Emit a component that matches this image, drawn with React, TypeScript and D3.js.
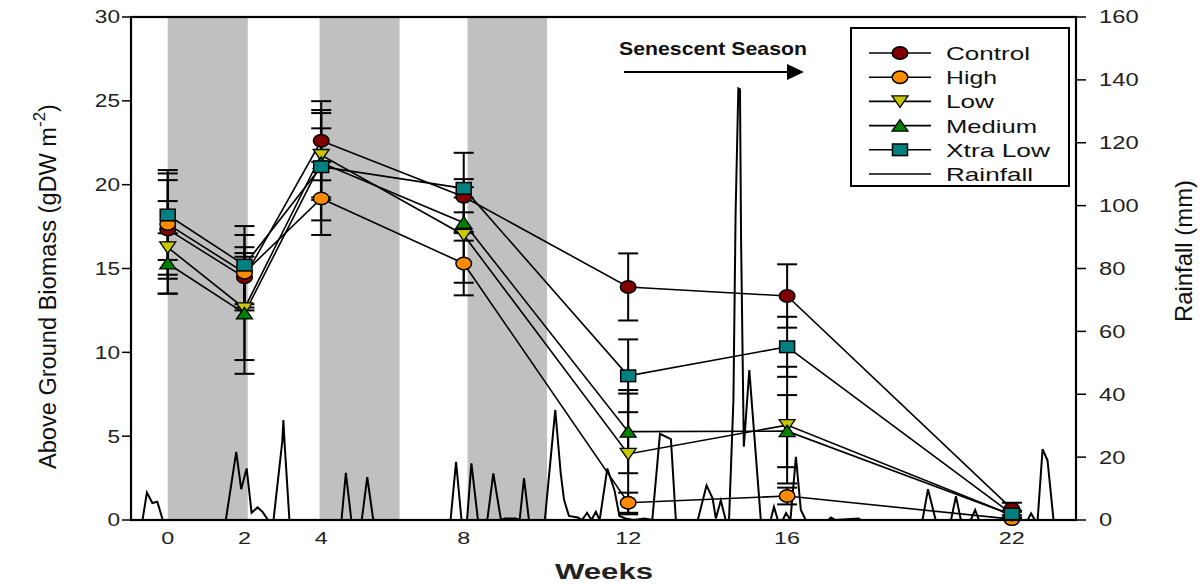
import { useEffect, useRef } from "react";
import * as d3 from "d3";

// sampling dates (days since first harvest) and their week labels
const sampleDays = [0, 14, 28, 54, 84, 113, 154];
const weekLabels = ["0", "2", "4", "8", "12", "16", "22"];

const treatments = ["Control", "High", "Low", "Medium", "Xtra Low"];
const control = [17.33, 14.47, 22.62, 19.28, 13.9, 13.36, 0.66];
const high = [17.65, 14.75, 19.18, 15.3, 1.03, 1.43, 0.05];
const low = [16.26, 12.62, 21.77, 17.0, 3.94, 5.66, 0.3];
const medium = [15.3, 12.32, 21.3, 17.73, 5.27, 5.3, 0.3];
const xtraLow = [18.19, 15.2, 21.07, 19.78, 8.6, 10.33, 0.36];

const controlErr = [2.94, 1.8, 2.36, 2.62, 2.0, 1.89, 0.37];
const highErr = [3.02, 2.25, 2.18, 1.9, 0.6, 0.5, 0.05];
const lowErr = [2.76, 3.08, 2.68, 2.85, 3.6, 3.48, 0.2];
const mediumErr = [1.8, 3.6, 2.06, 0.62, 2.48, 2.15, 0.2];
const xtraLowErr = [2.68, 2.33, 3.2, 0.55, 2.17, 1.79, 0.2];

// daily rainfall outline (day, mm)
const rainDays = [
  -6.6, -4.6, -3.8, -2.8, -1.9, -0.9,
  10.6, 12.5, 13.4, 14.4, 15.3, 16.4, 17.3, 18.3,
  19.3, 20.9, 21.1, 21.3, 22.2,
  31.7, 32.5, 33.5,
  35.4, 36.4, 37.5,
  51.6, 52.6, 53.6,
  54.6, 55.4, 56.6,
  58.3, 59.4, 60.8, 61.5, 63.5,
  64.2, 65, 65.9,
  68.8, 70.7, 71.7, 72.3, 73.2, 74.8, 75.6, 76.5, 77.3, 78.1, 78.8, 80.2, 81.5, 82.4, 83.5, 85, 87,
  88.4, 89.8, 91.8, 92.7,
  96.7, 98.3, 99.4, 100.0, 100.9, 101.8,
  102.4, 103.2, 103.6, 104.1, 104.4, 104.6, 105.1, 106.1, 106.7, 108.2,
  110, 110.6, 111.3, 112.2, 112.8, 113.6, 114.6, 115.5, 116.4,
  120.5, 121, 121.8, 126, 126.5,
  137.7, 138.7, 140.1,
  142.9, 143.8, 144.7,
  146.5, 147.3, 148,
  156.9, 157.5, 158.2,
  158.7, 159.6, 160.5, 161.6, 165.7,
];
const rainMm = [
  0, 0, 8.7, 5.4, 5.8, 0,
  0, 21.7, 9.8, 16.4, 2.3, 4.0, 2.6, 0,
  0, 25, 31.8, 25, 0,
  0, 15, 0,
  0, 13.6, 0,
  0, 18.5, 0,
  0, 18, 0,
  0, 14.8, 0, 0.5, 0.5,
  0, 13.3, 0,
  0, 35, 14.8, 6.4, 1.3, 0.8, 0, 2.3, 0, 2.6, 0, 16.4, 9.5, 1.3, 0.5, 0, 0.5,
  0, 27.4, 25.7, 0,
  0, 11, 6.9, 0.5, 6.2, 0,
  0, 38, 97.6, 137.3, 137, 89, 23.3, 47.7, 34, 0,
  0, 4.2, 0, 0, 2.2, 0, 20.1, 3.2, 0,
  0, 0.8, 0, 0.5, 0,
  0, 9.8, 0,
  0, 7.6, 0,
  0, 3.2, 0,
  0, 2.1, 0,
  0, 22.5, 19, 0, 0,
];

// wet-season shading, in days
const wetStart = [0, 27.7, 54.7];
const wetEnd = [14.6, 42.3, 69.2];

const biomassTicks = [0, 5, 10, 15, 20, 25, 30];
const rainTicks = [0, 20, 40, 60, 80, 100, 120, 140, 160];

const FONT = "'Liberation Sans', Arial, sans-serif";
const NARROW = "'Liberation Sans Narrow', 'Liberation Sans', Arial, sans-serif";

type Kind = "circle" | "down" | "up" | "square";

export default function App() {
  const svgRef = useRef<SVGSVGElement>(null);

  useEffect(() => {
    if (!svgRef.current) return;
    const svg = d3.select(svgRef.current);
    svg.selectAll("*").remove();

    const W = 1204;
    const H = 584;
    const left = 131;
    const right = 1076;
    const top = 17;
    const bottom = 520;

    svg.attr("width", W).attr("height", H).attr("viewBox", `0 0 ${W} ${H}`);

    const x = d3.scaleLinear().domain([-6.7, 165.7]).range([left, right]);
    const y = d3.scaleLinear().domain([0, 30]).range([bottom, top]);
    const yRain = d3.scaleLinear().domain([0, 160]).range([bottom, top]);

    const series = [
      { name: treatments[0], values: control, err: controlErr, kind: "circle" as Kind, fill: "#800000" },
      { name: treatments[1], values: high, err: highErr, kind: "circle" as Kind, fill: "#ff8c00" },
      { name: treatments[2], values: low, err: lowErr, kind: "down" as Kind, fill: "#c8c800" },
      { name: treatments[3], values: medium, err: mediumErr, kind: "up" as Kind, fill: "#008000" },
      { name: treatments[4], values: xtraLow, err: xtraLowErr, kind: "square" as Kind, fill: "#008080" },
    ];

    const defs = svg.append("defs");
    defs
      .append("clipPath")
      .attr("id", "plot-clip")
      .append("rect")
      .attr("x", left)
      .attr("y", top)
      .attr("width", right - left)
      .attr("height", bottom - top);

    // shaded periods
    wetStart.forEach((s, i) => {
      svg
        .append("rect")
        .attr("x", x(s))
        .attr("y", top)
        .attr("width", x(wetEnd[i]) - x(s))
        .attr("height", bottom - top)
        .attr("fill", "#c0c0c0");
    });

    // rainfall
    const rainLine = d3
      .line<number>()
      .x((d) => x(rainDays[d]))
      .y((d) => yRain(rainMm[d]));
    svg
      .append("path")
      .attr("clip-path", "url(#plot-clip)")
      .attr("d", rainLine(rainDays.map((_, i) => i)))
      .attr("fill", "none")
      .attr("stroke", "#000")
      .attr("stroke-width", 2)
      .attr("stroke-linejoin", "miter");

    const plot = svg.append("g");

    // error bars
    series.forEach((s) => {
      s.values.forEach((v, i) => {
        const cx = x(sampleDays[i]);
        const y1 = y(v + s.err[i]);
        const y2 = y(Math.max(0, v - s.err[i]));
        plot.append("line").attr("x1", cx).attr("x2", cx).attr("y1", y1).attr("y2", y2).attr("stroke", "#000").attr("stroke-width", 2);
        [y1, y2].forEach((yy) => {
          plot.append("line").attr("x1", cx - 10).attr("x2", cx + 10).attr("y1", yy).attr("y2", yy).attr("stroke", "#000").attr("stroke-width", 2);
        });
      });
    });

    // connecting lines
    const seriesLine = d3
      .line<number>()
      .x((_, i) => x(sampleDays[i]))
      .y((d) => y(d));
    series.forEach((s) => {
      plot.append("path").attr("d", seriesLine(s.values)).attr("fill", "none").attr("stroke", "#000").attr("stroke-width", 1.6);
    });

    const marker = (g: d3.Selection<SVGGElement, unknown, null, undefined>, kind: Kind, cx: number, cy: number, fill: string) => {
      if (kind === "circle") {
        g.append("ellipse").attr("cx", cx).attr("cy", cy).attr("rx", 7.8).attr("ry", 6.2).attr("fill", fill).attr("stroke", "#000").attr("stroke-width", 1.5);
      } else if (kind === "square") {
        g.append("rect").attr("x", cx - 7.5).attr("y", cy - 5.8).attr("width", 15).attr("height", 11.6).attr("fill", fill).attr("stroke", "#000").attr("stroke-width", 1.5);
      } else if (kind === "down") {
        g.append("path").attr("d", `M${cx - 8},${cy - 5.5}L${cx + 8},${cy - 5.5}L${cx},${cy + 6}Z`).attr("fill", fill).attr("stroke", "#000").attr("stroke-width", 1.3);
      } else {
        g.append("path").attr("d", `M${cx - 8},${cy + 5.5}L${cx + 8},${cy + 5.5}L${cx},${cy - 6}Z`).attr("fill", fill).attr("stroke", "#000").attr("stroke-width", 1.3);
      }
    };

    series.forEach((s) => {
      s.values.forEach((v, i) => marker(plot, s.kind, x(sampleDays[i]), y(v), s.fill));
    });

    // frame
    svg.append("rect").attr("x", left).attr("y", top).attr("width", right - left).attr("height", bottom - top).attr("fill", "none").attr("stroke", "#000").attr("stroke-width", 2.2);

    // left axis
    biomassTicks.forEach((t) => {
      svg.append("line").attr("x1", left - 9).attr("x2", left).attr("y1", y(t)).attr("y2", y(t)).attr("stroke", "#000").attr("stroke-width", 1.5);
      svg
        .append("text")
        .attr("x", left - 11)
        .attr("y", y(t))
        .attr("dy", "0.36em")
        .attr("text-anchor", "end")
        .attr("font-family", FONT)
        .attr("font-size", 18)
        .attr("fill", "#222")
        .attr("textLength", String(t).length * 12.6)
        .attr("lengthAdjust", "spacingAndGlyphs")
        .text(t);
    });

    // right axis
    rainTicks.forEach((t) => {
      svg.append("line").attr("x1", right).attr("x2", right + 10).attr("y1", yRain(t)).attr("y2", yRain(t)).attr("stroke", "#000").attr("stroke-width", 1.5);
      svg
        .append("text")
        .attr("x", right + 23)
        .attr("y", yRain(t))
        .attr("dy", "0.36em")
        .attr("text-anchor", "start")
        .attr("font-family", FONT)
        .attr("font-size", 18)
        .attr("fill", "#222")
        .attr("textLength", String(t).length * 13.2)
        .attr("lengthAdjust", "spacingAndGlyphs")
        .text(t);
    });

    // bottom labels
    weekLabels.forEach((lab, i) => {
      svg
        .append("text")
        .attr("x", x(sampleDays[i]))
        .attr("y", 544)
        .attr("text-anchor", "middle")
        .attr("font-family", FONT)
        .attr("font-size", 17)
        .attr("fill", "#222")
        .attr("textLength", lab.length * 13)
        .attr("lengthAdjust", "spacingAndGlyphs")
        .text(lab);
    });

    svg
      .append("text")
      .attr("x", 604)
      .attr("y", 579)
      .attr("text-anchor", "middle")
      .attr("font-family", FONT)
      .attr("font-size", 22)
      .attr("font-weight", "bold")
      .attr("fill", "#222")
      .attr("textLength", 98)
      .attr("lengthAdjust", "spacingAndGlyphs")
      .text("Weeks");

    // y titles
    const yTitle = svg
      .append("text")
      .attr("transform", "translate(56,469) rotate(-90)")
      .attr("text-anchor", "start")
      .attr("font-family", NARROW)
      .attr("font-size", 23)
      .attr("fill", "#111");
    yTitle
      .append("tspan")
      .attr("textLength", 342)
      .attr("lengthAdjust", "spacingAndGlyphs")
      .text("Above Ground Biomass (gDW m");
    yTitle.append("tspan").attr("dy", -11).attr("font-size", 17).text("-2");
    yTitle.append("tspan").attr("dy", 11).text(")");

    svg
      .append("text")
      .attr("transform", "translate(1192,251) rotate(-90)")
      .attr("text-anchor", "middle")
      .attr("font-family", NARROW)
      .attr("font-size", 24)
      .attr("fill", "#111")
      .attr("textLength", 142)
      .attr("lengthAdjust", "spacingAndGlyphs")
      .text("Rainfall (mm)");

    // senescent annotation
    svg
      .append("text")
      .attr("x", 713)
      .attr("y", 55)
      .attr("text-anchor", "middle")
      .attr("font-family", FONT)
      .attr("font-size", 19)
      .attr("font-weight", "bold")
      .attr("fill", "#111")
      .attr("textLength", 188)
      .attr("lengthAdjust", "spacingAndGlyphs")
      .text("Senescent Season");
    svg.append("line").attr("x1", 624).attr("x2", 790).attr("y1", 72).attr("y2", 72).attr("stroke", "#000").attr("stroke-width", 2);
    svg.append("path").attr("d", "M787,64L804,72L787,80Z").attr("fill", "#000");

    // legend
    const lg = svg.append("g");
    lg.append("rect").attr("x", 851).attr("y", 28).attr("width", 218).attr("height", 158).attr("fill", "#fff").attr("stroke", "#000").attr("stroke-width", 2);
    const labelWidths = [84, 51, 48, 91, 104, 87];
    const rows = [...series.map((s) => s.name), "Rainfall"];
    rows.forEach((name, i) => {
      const ry = 53 + i * 24.2;
      lg.append("line").attr("x1", 869).attr("x2", 931).attr("y1", ry).attr("y2", ry).attr("stroke", "#000").attr("stroke-width", 1.6);
      if (i < series.length) marker(lg, series[i].kind, 900, ry, series[i].fill);
      lg.append("text")
        .attr("x", 946)
        .attr("y", ry + 7)
        .attr("font-family", FONT)
        .attr("font-size", 19)
        .attr("fill", "#111")
        .attr("textLength", labelWidths[i])
        .attr("lengthAdjust", "spacingAndGlyphs")
        .text(name);
    });
  }, []);

  return (
    <div style={{ position: "absolute", left: 0, top: 0, width: 1204, height: 584, background: "#fff" }}>
      <svg ref={svgRef} style={{ display: "block" }} />
    </div>
  );
}
